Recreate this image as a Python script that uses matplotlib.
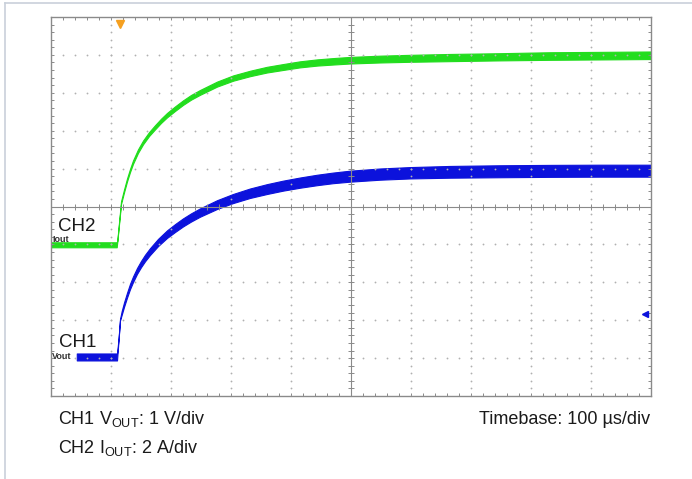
import numpy as np
import matplotlib
matplotlib.use("Agg")
import matplotlib.pyplot as plt
from matplotlib.lines import Line2D

plt.rcParams["font.family"] = ["Liberation Sans", "DejaVu Sans"]

# time in us (100 us/div), traces in screen divisions (0 = centre line)
ch2_t = [0, 109.6, 110.5, 116.8, 121.8, 126.8, 131.8, 136.8, 145.1, 153.5,
         163.5, 173.5, 183.5, 193.5, 206.8, 220.2, 233.5, 248.5, 277, 304,
         332, 360, 387, 415, 444, 470, 499, 549, 599, 666, 749, 832, 916, 1000]
ch2_y = [-1.01, -1.01, -0.93, 0.10, 0.41, 0.70, 0.95, 1.17, 1.46, 1.69,
         1.91, 2.09, 2.26, 2.41, 2.58, 2.74, 2.88, 3.01, 3.23, 3.39,
         3.51, 3.61, 3.68, 3.75, 3.80, 3.83, 3.86, 3.89, 3.91, 3.93, 3.95,
         3.97, 3.98, 3.99]
ch2_hw = [0.066, 0.066, 0.015, 0.035, 0.038, 0.04, 0.042, 0.045, 0.047, 0.05,
          0.052, 0.055, 0.056, 0.058, 0.06, 0.06, 0.062, 0.064, 0.066, 0.07,
          0.072, 0.075, 0.078, 0.08, 0.082, 0.085, 0.087, 0.09, 0.092, 0.095,
          0.095, 0.1, 0.1, 0.1]

ch1_t = [43, 110.1, 112.6, 115.1, 117.9, 121.8, 126.8, 131.8, 136.8, 143.5,
         150.1, 156.8, 165.1, 178.5, 193.5, 206.8, 220.2, 233.5, 248.5, 276.9,
         303.6, 331.9, 360.3, 387.0, 415.3, 443.7, 470.4, 498.7, 548.8, 598.8,
         665.6, 749.0, 832.4, 915.8, 1000]
ch1_y = [-3.97, -3.97, -3.52, -2.99, -2.81, -2.59, -2.34, -2.11, -1.92, -1.70,
         -1.52, -1.36, -1.19, -0.95, -0.73, -0.57, -0.42, -0.29, -0.16, 0.05,
         0.21, 0.35, 0.46, 0.55, 0.63, 0.70, 0.755, 0.80, 0.855, 0.89,
         0.915, 0.93, 0.94, 0.945, 0.945]
ch1_hw = [0.092, 0.092, 0.015, 0.02, 0.05, 0.058, 0.064, 0.07, 0.074, 0.078,
          0.082, 0.086, 0.09, 0.095, 0.1, 0.104, 0.106, 0.108, 0.11, 0.116,
          0.12, 0.125, 0.13, 0.132, 0.135, 0.138, 0.14, 0.145, 0.148, 0.15,
          0.155, 0.158, 0.158, 0.158, 0.158]

trig_t = 115
ch1_ref = -2.83

green = "#22dd1e"
blue = "#0c12dc"
grey = "#8a8a8a"

fig = plt.figure(figsize=(6.92, 4.79), dpi=100)
ax = fig.add_axes([51 / 692, 1 - 396 / 479, 599.5 / 692, 379 / 479])
ax.set_xlim(0, 1000)
ax.set_ylim(-5, 5)

# outer frame (left + top)
fig.add_artist(Line2D([5 / 692, 5 / 692], [0, 1 - 3 / 479], color="#c9d0da", lw=1.2))
fig.add_artist(Line2D([5 / 692, 1], [1 - 3 / 479, 1 - 3 / 479], color="#c9d0da", lw=1.2))

# graticule
xm = np.arange(0, 1001, 20)
ym = np.arange(-5, 5.01, 0.2)
for xv in range(100, 1000, 100):
    if xv != 500:
        ax.plot(np.full(len(ym), xv), ym, ls="none", marker="o", ms=1.3, color="#b0b0b0", mew=0)
for yv in range(-4, 5):
    if yv != 0:
        ax.plot(xm, np.full(len(xm), yv), ls="none", marker="o", ms=1.3, color="#b0b0b0", mew=0)
ax.axhline(0, color=grey, lw=0.8)
ax.axvline(500, color=grey, lw=0.8)
ax.plot(xm, np.zeros(len(xm)), ls="none", marker="|", ms=4, color=grey, mew=0.7)
ax.plot(np.full(len(ym), 500), ym, ls="none", marker="_", ms=4, color=grey, mew=0.7)

ax.set_xticks([])
ax.set_yticks([])
ax.set_xticks(xm, minor=True)
ax.set_yticks(ym, minor=True)
ax.tick_params(which="minor", direction="in", length=2.5, width=0.7, color=grey,
               top=True, right=True, labelbottom=False, labelleft=False)
for s in ax.spines.values():
    s.set_color(grey)
    s.set_linewidth(1.0)

# traces
t2, y2, h2 = np.array(ch2_t), np.array(ch2_y), np.array(ch2_hw)
t1, y1, h1 = np.array(ch1_t), np.array(ch1_y), np.array(ch1_hw)
ax.fill_between(t2, y2 - h2, y2 + h2, color=green, lw=0.8, edgecolor=green)
ax.fill_between(t1, y1 - h1, y1 + h1, color=blue, lw=0.8, edgecolor=blue)

# markers
ax.plot([trig_t], [4.82], marker="v", ms=6, color="#f5a020", clip_on=False)
ax.plot([990], [ch1_ref], marker="<", ms=4, color=blue, clip_on=False)

# channel labels
ax.text(0.012, 0.436, "CH2", transform=ax.transAxes, fontsize=13.5, color="#1a1a1a")
ax.text(0.002, 0.407, "Iout", transform=ax.transAxes, fontsize=6.5, fontweight="bold", color="#333333")
ax.text(0.013, 0.130, "CH1", transform=ax.transAxes, fontsize=13.5, color="#1a1a1a")
ax.text(0.002, 0.097, "Vout", transform=ax.transAxes, fontsize=6.5, fontweight="bold", color="#333333")

fig.text(58 / 692, 1 - 424 / 479, r"CH1 V$_{\mathregular{OUT}}$: 1 V/div", fontsize=13, color="#1a1a1a")
fig.text(58 / 692, 1 - 453 / 479, r"CH2 I$_{\mathregular{OUT}}$: 2 A/div", fontsize=13, color="#1a1a1a")
fig.text(650 / 692, 1 - 424 / 479, "Timebase: 100 µs/div", fontsize=13, color="#1a1a1a", ha="right")

fig.savefig("out.png", dpi=100)
